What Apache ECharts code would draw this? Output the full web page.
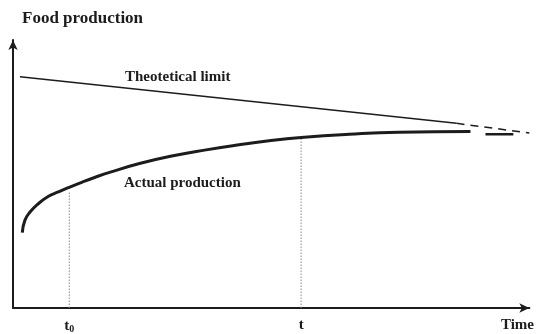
<!DOCTYPE html>
<html><head><meta charset="utf-8">
<script src="https://cdn.jsdelivr.net/npm/echarts@6/dist/echarts.min.js"></script>
<style>html,body{margin:0;padding:0;background:#fff}#c{width:537px;height:334px}</style>
</head><body><div id="c"></div>
<script>
// ---- data (abstract units: time 0..100, production 0..100) ----
var theoreticalSolid = [[1.35, 86.3], [85.9, 68.9]];
var theoreticalDashed = [[85.9, 68.9], [100, 65.3]];
var actualProduction = [[1.8, 28.1], [2.3, 32.7], [3.3, 35.8], [4.9, 38.9], [6.8, 41.6], [8.75, 43.3], [10.7, 44.9], [13.3, 46.9], [15.8, 48.7], [18.7, 50.6], [24.5, 53.9], [31.0, 56.8], [37.4, 59.0], [43.8, 60.9], [49.6, 62.4], [55.8, 63.6], [65.1, 64.8], [74.7, 65.6], [88.6, 65.9]];
var actualTail = [[91.5, 64.8], [96.9, 64.8]];
var t0 = 10.9, t = 55.8, timeTick = 97.7;
var t0Guide = [[t0, 0], [t0, 43.6]];
var tGuide = [[t, 0], [t, 63.2]];
var tickValues = [t0, t, timeTick];
var tickLabels = ['t{sub|0}', 't', 'Time'];
var yTitle = 'Food production';
var theoreticalName = 'Theotetical limit';
var actualName = 'Actual production';

var FONT = '"Liberation Serif", "Times New Roman", serif';
var INK = '#1c1c1c';
var chart = echarts.init(document.getElementById('c'), null, {renderer: 'canvas'});
function guide(d) {
  return {type: 'line', data: d, symbol: 'none', silent: true,
    lineStyle: {color: '#8a8a8a', width: 1, type: [1.5, 1.5]}};
}
chart.setOption({
  backgroundColor: '#fff',
  animation: false,
  grid: {left: 13, right: 6, top: 40, bottom: 24},
  xAxis: {
    type: 'value', min: 0, max: 100,
    splitLine: {show: false},
    axisTick: {show: false},
    axisLine: {lineStyle: {color: INK, width: 2}, symbol: ['none', 'arrow'], symbolSize: [7, 10]},
    axisLabel: {
      customValues: tickValues,
      margin: 10,
      fontFamily: FONT, fontWeight: 'bold', fontSize: 15, color: INK,
      formatter: function (v) { var i = tickValues.indexOf(v); return i >= 0 ? tickLabels[i] : ''; },
      rich: {sub: {fontFamily: FONT, fontWeight: 'bold', fontSize: 10, color: INK, verticalAlign: 'bottom', padding: [6, 0, 0, 0]}}
    }
  },
  yAxis: {
    type: 'value', min: 0, max: 100,
    splitLine: {show: false},
    axisTick: {show: false},
    axisLabel: {show: false},
    axisLine: {show: true, lineStyle: {color: INK, width: 2}, symbol: ['none', 'arrow'], symbolSize: [7, 10]},
    name: yTitle,
    nameLocation: 'end',
    nameGap: 13,
    nameTextStyle: {align: 'left', padding: [0, 0, 0, 9], fontFamily: FONT, fontWeight: 'bold', fontSize: 17, color: INK}
  },
  series: [
    guide(t0Guide),
    guide(tGuide),
    {type: 'line', name: theoreticalName, data: theoreticalSolid, symbol: 'none',
      lineStyle: {color: INK, width: 1.5}},
    {type: 'line', data: theoreticalDashed, symbol: 'none',
      lineStyle: {color: INK, width: 1.5, type: [8, 6]}},
    {type: 'line', name: actualName, data: actualProduction, symbol: 'none', smooth: 0.5,
      lineStyle: {color: INK, width: 3}},
    {type: 'line', data: actualTail, symbol: 'none',
      lineStyle: {color: INK, width: 2.5}},
    {type: 'scatter', symbolSize: 0, silent: true, itemStyle: {opacity: 1},
      data: [{value: [31.9, 86.3], name: theoreticalName}, {value: [32.8, 46.7], name: actualName}],
      label: {show: true, position: 'inside', formatter: '{b}', fontFamily: FONT, fontWeight: 'bold', fontSize: 15, color: INK}}
  ]
});
</script></body></html>
